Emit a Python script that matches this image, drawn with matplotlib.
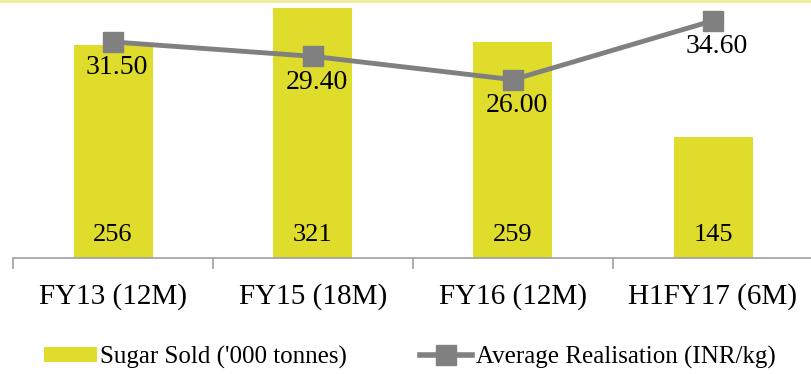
import matplotlib
matplotlib.use("Agg")
import matplotlib.pyplot as plt
from matplotlib.lines import Line2D
from matplotlib.patches import Patch

categories = ["FY13 (12M)", "FY15 (18M)", "FY16 (12M)", "H1FY17 (6M)"]
sugar_sold = [256, 321, 259, 145]
avg_realisation = [31.50, 29.40, 26.00, 34.60]

bar_color = "#E0DC2C"
line_color = "#808080"
plt.rcParams["font.family"] = ["Liberation Serif", "DejaVu Serif"]

fig = plt.figure(figsize=(8.12, 3.74), dpi=100)
ax = fig.add_axes([13 / 812, (374 - 258) / 374, 800 / 812, 250 / 374])

x = list(range(len(categories)))
ax.bar(x, sugar_sold, width=0.395, color=bar_color, zorder=1)
ax.set_xlim(-0.5, 3.5)
ax.set_ylim(0, 300)
for xi, v in zip(x, sugar_sold):
    ax.text(xi, 28, f"{v}", ha="center", va="center", fontsize=19,
            color="black", zorder=3)

for s in ["left", "right", "top"]:
    ax.spines[s].set_visible(False)
ax.spines["bottom"].set_color("#A0A0A0")
ax.spines["bottom"].set_linewidth(1.2)
ax.set_yticks([])
ax.set_xticks(x)
ax.set_xticklabels(categories, fontsize=21)
ax.tick_params(axis="x", which="major", length=0, pad=18)
ax.set_xticks([-0.5, 0.5, 1.5, 2.5], minor=True)
ax.tick_params(axis="x", which="minor", length=8, width=1.2, color="#A0A0A0")

ax2 = ax.twinx()
ax2.set_ylim(0, 36.45)
ax2.plot(x, avg_realisation, color=line_color, linewidth=3.5, marker="s",
         markersize=15, zorder=2, clip_on=False)
for xi, v in zip(x, avg_realisation):
    ax2.text(xi + 0.02, v - 3.75, f"{v:.2f}", ha="center", va="center",
             fontsize=20, color="black", zorder=3)
ax2.set_yticks([])
for s in ["left", "right", "top", "bottom"]:
    ax2.spines[s].set_visible(False)

handles = [
    Patch(facecolor=bar_color, edgecolor="none", label="Sugar Sold ('000 tonnes)"),
    Line2D([0], [0], color=line_color, linewidth=4, marker="s", markersize=14,
           label="Average Realisation (INR/kg)"),
]
fig.legend(handles=handles, loc="center", bbox_to_anchor=(0.505, 0.045), ncol=2,
           frameon=False, fontsize=18, handlelength=2.1, handleheight=0.6,
           handletextpad=0.15, columnspacing=2.9)

fig.add_artist(Line2D([0, 1], [0.998, 0.998], transform=fig.transFigure,
                      color="#F0EC98", linewidth=2))

fig.savefig("out.png", dpi=100)
